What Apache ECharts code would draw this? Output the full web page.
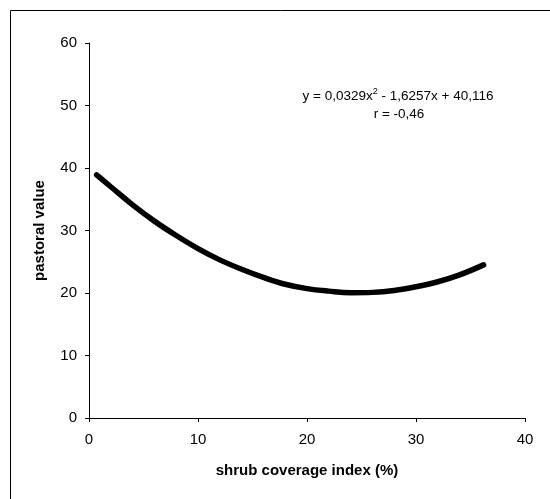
<!DOCTYPE html>
<html>
<head>
<meta charset="utf-8">
<script src="https://cdn.jsdelivr.net/npm/echarts@6/dist/echarts.min.js"></script>
<style>
html,body{margin:0;padding:0;background:#fff;}
#chart{width:550px;height:499px;}
</style>
</head>
<body>
<div id="chart"></div>
<script>
// Values
var shrubCoverage = [0.7, 2, 4, 6, 8, 10, 12, 14, 16, 18, 20, 22, 24, 26, 28, 30, 32, 34, 36.2];
var pastoralValue = [38.9, 37.0, 34.1, 31.5, 29.2, 27.1, 25.3, 23.8, 22.5, 21.4, 20.7, 20.3, 20.05, 20.1, 20.4, 21.0, 21.8, 22.9, 24.5];
var xTicks = [0, 10, 20, 30, 40];
var yTicks = [0, 10, 20, 30, 40, 50, 60];
var equationText = 'y = 0,0329x{sup|2} - 1,6257x + 40,116';
var rText = 'r = -0,46';

var chart = echarts.init(document.getElementById('chart'), null, {renderer: 'canvas'});
var font = 'Liberation Sans, Arial, sans-serif';
var pts = shrubCoverage.map(function (x, i) { return [x, pastoralValue[i]]; });

chart.setOption({
  animation: false,
  backgroundColor: '#fff',
  grid: {left: 89, top: 43, width: 436, height: 375, containLabel: false},
  xAxis: {
    type: 'value', min: xTicks[0], max: xTicks[xTicks.length - 1], interval: 10,
    name: 'shrub coverage index (%)', nameLocation: 'middle', nameGap: 45,
    nameTextStyle: {color: '#000', fontFamily: font, fontSize: 15, fontWeight: 'bold'},
    axisLine: {lineStyle: {color: '#000', width: 1}},
    axisTick: {show: true, length: 4, lineStyle: {color: '#000'}},
    axisLabel: {color: '#000', fontFamily: font, fontSize: 15, margin: 14},
    splitLine: {show: false}
  },
  yAxis: {
    type: 'value', min: yTicks[0], max: yTicks[yTicks.length - 1], interval: 10,
    name: 'pastoral value', nameLocation: 'middle', nameGap: 42, nameRotate: 90,
    nameTextStyle: {color: '#000', fontFamily: font, fontSize: 15, fontWeight: 'bold'},
    axisLine: {show: true, lineStyle: {color: '#000', width: 1}},
    axisTick: {show: true, length: 4, lineStyle: {color: '#000'}},
    axisLabel: {color: '#000', fontFamily: font, fontSize: 15, margin: 12},
    splitLine: {show: false}
  },
  series: [{
    type: 'line',
    data: pts,
    smooth: 0.4,
    symbol: 'none',
    lineStyle: {color: '#000', width: 5.5, cap: 'round'}
  }],
  graphic: [
    {
      type: 'rect', left: 8, top: 8, silent: true,
      shape: {x: 0, y: 0, width: 560, height: 510},
      style: {fill: 'none', stroke: '#000', lineWidth: 1}
    },
    {
      type: 'text', x: 398, y: 96, silent: true,
      style: {
        text: equationText, align: 'center', verticalAlign: 'middle',
        fill: '#000', font: '13.5px ' + font,
        rich: {sup: {fontSize: 9, verticalAlign: 'top', padding: [0, 0, 9, 0], fill: '#000', fontFamily: font}}
      }
    },
    {
      type: 'text', x: 399, y: 114, silent: true,
      style: {text: rText, align: 'center', verticalAlign: 'middle', fill: '#000', font: '13.5px ' + font}
    }
  ]
});
</script>
</body>
</html>
